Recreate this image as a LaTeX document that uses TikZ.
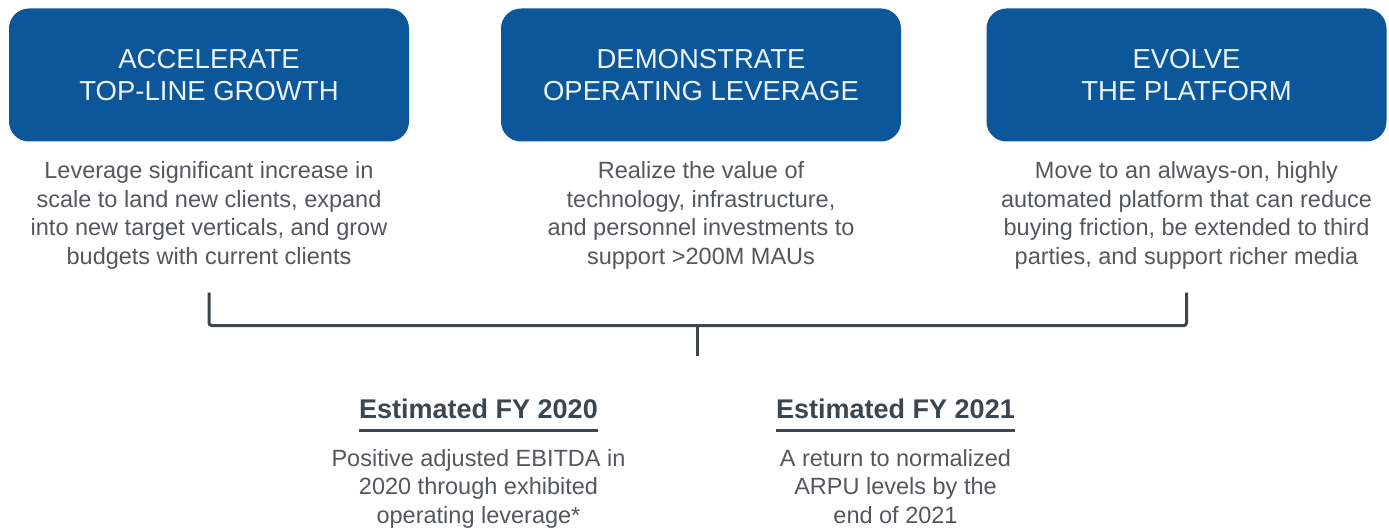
\documentclass[tikz,border=0pt]{standalone}
\usepackage{fontspec}
\setmainfont{Liberation Sans}
\usetikzlibrary{arrows,calc,positioning}
\tikzset{
  >=stealth'
}
\definecolor{boxblue}{RGB}{11,87,154}
\definecolor{boxtext}{RGB}{236,242,248}
\definecolor{bodygray}{RGB}{84,88,92}
\definecolor{headgray}{RGB}{60,70,78}
\definecolor{linegray}{RGB}{62,70,76}

\begin{document}
\begin{tikzpicture}[x=1pt,y=-1pt,
    goal/.style={rectangle,rounded corners=20pt,fill=boxblue,text=boxtext,minimum width=400pt,minimum height=133pt,align=center,font=\fontsize{27.5}{32}\selectfont},
    desc/.style={anchor=north,inner sep=0pt,align=center,text=bodygray,font=\fontsize{23.5}{28.5}\selectfont},
    est/.style={anchor=base,inner sep=0pt,text=headgray,font=\fontsize{27}{30}\selectfont\bfseries},
    uline/.style={draw=headgray,line width=2.5pt},
    brak/.style={draw=linegray,line width=3pt,rounded corners=3pt}
  ]
    \useasboundingbox[fill=white] (0,0) rectangle (1389,532);

    % the three goals
    \node (G1) at (209,75) [goal] {ACCELERATE\\TOP-LINE GROWTH};
    \node (G2) at (701,75) [goal] {DEMONSTRATE\\OPERATING LEVERAGE};
    \node (G3) at (1186.5,75) [goal] {EVOLVE\\THE PLATFORM};

    \node (D1) at ($(G1.south)+(0,20)$) [desc] {Leverage significant increase in\\scale to land new clients, expand\\into new target verticals, and grow\\budgets with current clients};
    \node (D2) at ($(G2.south)+(0,20)$) [desc] {Realize the value of\\technology, infrastructure,\\and personnel investments to\\support >200M MAUs};
    \node (D3) at ($(G3.south)+(0,20)$) [desc] {Move to an always-on, highly\\automated platform that can reduce\\buying friction, be extended to third\\parties, and support richer media};

    % bracket under the goals
    \coordinate (BL) at ($(G1.south)+(0,151)$);
    \coordinate (BR) at ($(G3.south)+(0,151)$);
    \coordinate (BM) at ($(BL)!0.5!(BR)+(0,33)$);
    \draw[brak] (BL) |- ($(BR)+(0,33)$) -- (BR);
    \draw[brak] (BM) -- ++(0,30);

    % estimates
    \node (H20) at (478.5,418) [est] {Estimated FY 2020};
    \node (H21) at (895.5,418) [est] {Estimated FY 2021};
    \draw[uline] ($(H20.south west)+(0,12)$) -- ($(H20.south east)+(0,12)$);
    \draw[uline] ($(H21.south west)+(0,12)$) -- ($(H21.south east)+(0,12)$);

    \node (E20) at ($(H20.base)+(0,31)$) [desc] {Positive adjusted EBITDA in\\2020 through exhibited\\operating leverage*};
    \node (E21) at ($(H21.base)+(0,31)$) [desc] {A return to normalized\\ARPU levels by the\\end of 2021};

  \end{tikzpicture}
\end{document}
